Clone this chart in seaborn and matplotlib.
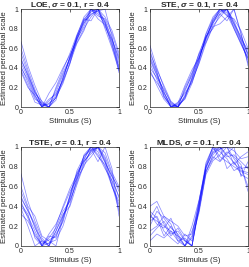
import numpy as np
import pandas as pd
import matplotlib
matplotlib.use('Agg')
import matplotlib.pyplot as plt
import seaborn as sns

# stimulus levels (15 points)
stimulus = [0.0, 0.0714, 0.1429, 0.2143, 0.2857, 0.3571, 0.4286, 0.5,
            0.5714, 0.6429, 0.7143, 0.7857, 0.8571, 0.9286, 1.0]

loe = [
    [0.67, 0.42, 0.22, 0.05, 0.00, 0.10, 0.30, 0.50, 0.72, 0.88, 1.00, 0.95, 0.85, 0.62, 0.40],
    [0.55, 0.35, 0.15, 0.02, 0.03, 0.12, 0.28, 0.52, 0.70, 0.90, 0.97, 1.00, 0.88, 0.70, 0.48],
    [0.45, 0.30, 0.12, 0.00, 0.06, 0.15, 0.33, 0.48, 0.68, 0.85, 1.00, 0.93, 0.90, 0.75, 0.52],
    [0.42, 0.25, 0.08, 0.04, 0.00, 0.18, 0.35, 0.50, 0.66, 0.80, 0.92, 1.00, 0.82, 0.68, 0.45],
    [0.40, 0.28, 0.10, 0.00, 0.08, 0.13, 0.27, 0.46, 0.72, 0.86, 0.95, 0.98, 1.00, 0.72, 0.38],
    [0.38, 0.22, 0.05, 0.02, 0.00, 0.10, 0.24, 0.45, 0.65, 0.78, 0.98, 1.00, 0.86, 0.66, 0.35],
    [0.50, 0.32, 0.14, 0.06, 0.00, 0.20, 0.38, 0.55, 0.74, 0.90, 0.88, 1.00, 0.92, 0.78, 0.55],
    [0.60, 0.38, 0.18, 0.00, 0.04, 0.09, 0.26, 0.44, 0.70, 0.82, 1.00, 0.90, 0.84, 0.64, 0.42],
    [0.36, 0.20, 0.12, 0.00, 0.14, 0.25, 0.40, 0.53, 0.69, 0.88, 0.94, 1.00, 0.80, 0.60, 0.37],
    [0.48, 0.33, 0.16, 0.03, 0.00, 0.07, 0.30, 0.51, 0.73, 0.92, 1.00, 0.97, 0.87, 0.69, 0.50],
]

ste = [
    [0.63, 0.40, 0.20, 0.04, 0.00, 0.12, 0.30, 0.52, 0.75, 0.92, 1.00, 0.96, 0.82, 0.66, 0.50],
    [0.52, 0.35, 0.15, 0.00, 0.03, 0.16, 0.34, 0.50, 0.70, 0.88, 0.97, 1.00, 0.85, 0.72, 0.55],
    [0.45, 0.28, 0.10, 0.02, 0.00, 0.10, 0.28, 0.48, 0.72, 0.85, 1.00, 0.93, 0.90, 0.78, 0.60],
    [0.40, 0.30, 0.18, 0.05, 0.00, 0.20, 0.35, 0.54, 0.66, 0.83, 0.92, 1.00, 0.80, 0.65, 0.48],
    [0.38, 0.22, 0.08, 0.00, 0.05, 0.14, 0.25, 0.45, 0.68, 0.86, 0.95, 0.88, 1.00, 0.74, 0.52],
    [0.48, 0.32, 0.12, 0.00, 0.02, 0.08, 0.24, 0.47, 0.74, 0.90, 1.00, 0.98, 0.84, 0.68, 0.45],
    [0.55, 0.38, 0.22, 0.06, 0.00, 0.18, 0.32, 0.55, 0.72, 0.80, 0.95, 1.00, 0.88, 0.70, 0.58],
    [0.35, 0.25, 0.14, 0.03, 0.00, 0.11, 0.27, 0.44, 0.65, 0.82, 0.85, 0.92, 1.00, 0.76, 0.42],
    [0.50, 0.33, 0.16, 0.00, 0.04, 0.22, 0.38, 0.50, 0.70, 0.89, 1.00, 0.94, 0.80, 0.64, 0.50],
    [0.58, 0.36, 0.11, 0.01, 0.00, 0.09, 0.29, 0.49, 0.71, 0.87, 0.98, 1.00, 0.86, 0.69, 0.54],
]

tste = [
    [0.73, 0.45, 0.25, 0.08, 0.00, 0.15, 0.30, 0.50, 0.72, 0.88, 1.00, 0.95, 0.80, 0.60, 0.45],
    [0.60, 0.40, 0.30, 0.10, 0.05, 0.00, 0.28, 0.48, 0.70, 0.85, 0.95, 1.00, 0.90, 0.72, 0.55],
    [0.50, 0.35, 0.20, 0.00, 0.08, 0.18, 0.35, 0.45, 0.66, 0.92, 1.00, 0.98, 0.84, 0.70, 0.58],
    [0.45, 0.28, 0.10, 0.02, 0.06, 0.10, 0.26, 0.52, 0.74, 0.86, 0.93, 1.00, 0.88, 0.65, 0.38],
    [0.40, 0.30, 0.15, 0.00, 0.12, 0.22, 0.38, 0.55, 0.68, 0.80, 0.98, 0.85, 1.00, 0.78, 0.30],
    [0.38, 0.20, 0.00, 0.05, 0.02, 0.15, 0.32, 0.40, 0.62, 0.82, 0.90, 1.00, 0.86, 0.60, 0.42],
    [0.55, 0.38, 0.18, 0.06, 0.00, 0.12, 0.24, 0.50, 0.76, 0.90, 1.00, 0.92, 0.78, 0.66, 0.50],
    [0.32, 0.25, 0.12, 0.00, 0.10, 0.08, 0.30, 0.46, 0.64, 0.84, 0.96, 1.00, 0.94, 0.74, 0.60],
    [0.48, 0.36, 0.22, 0.04, 0.00, 0.20, 0.40, 0.58, 0.72, 0.87, 1.00, 0.90, 0.82, 0.62, 0.35],
    [0.42, 0.32, 0.08, 0.00, 0.03, 0.06, 0.20, 0.42, 0.68, 0.91, 0.97, 1.00, 0.85, 0.70, 0.48],
]

mlds = [
    [0.40, 0.45, 0.30, 0.25, 0.20, 0.10, 0.12, 0.45, 0.80, 1.00, 0.90, 0.85, 0.80, 0.75, 0.72],
    [0.30, 0.25, 0.20, 0.15, 0.10, 0.05, 0.00, 0.40, 0.78, 0.95, 1.00, 0.90, 0.92, 0.85, 0.78],
    [0.20, 0.35, 0.28, 0.18, 0.12, 0.00, 0.15, 0.35, 0.75, 0.88, 0.98, 1.00, 0.82, 0.90, 0.95],
    [0.15, 0.20, 0.30, 0.22, 0.05, 0.08, 0.00, 0.38, 0.82, 1.00, 0.95, 0.88, 0.76, 0.80, 0.60],
    [0.35, 0.28, 0.10, 0.20, 0.08, 0.00, 0.10, 0.42, 0.76, 0.90, 0.85, 0.93, 1.00, 0.70, 0.85],
    [0.10, 0.18, 0.25, 0.12, 0.15, 0.05, 0.00, 0.36, 0.74, 0.92, 1.00, 0.78, 0.85, 0.72, 0.68],
    [0.25, 0.30, 0.15, 0.08, 0.02, 0.12, 0.05, 0.44, 0.84, 1.00, 0.86, 0.95, 0.90, 0.82, 0.55],
    [0.32, 0.22, 0.18, 0.28, 0.10, 0.00, 0.20, 0.46, 0.80, 0.94, 0.98, 1.00, 0.88, 0.78, 0.80],
    [0.05, 0.12, 0.08, 0.15, 0.05, 0.00, 0.08, 0.33, 0.72, 0.86, 0.92, 1.00, 0.96, 0.88, 0.90],
    [0.28, 0.40, 0.22, 0.10, 0.18, 0.06, 0.00, 0.40, 0.79, 0.97, 1.00, 0.92, 0.84, 0.76, 0.74],
]

titles = [r'LOE, $\sigma$ = 0.1, r = 0.4', r'STE, $\sigma$ = 0.1, r = 0.4',
          r'TSTE, $\sigma$ = 0.1, r = 0.4', r'MLDS, $\sigma$ = 0.1, r = 0.4']
panels = [loe, ste, tste, mlds]

sns.set_style('white')
plt.rcParams['font.family'] = ['Liberation Sans', 'DejaVu Sans']
plt.rcParams['mathtext.fontset'] = 'custom'
plt.rcParams['mathtext.it'] = 'Liberation Sans:italic:bold'

fig = plt.figure(figsize=(2.49, 2.67), dpi=100)

# axes positions [left, bottom, width, height] in figure fraction
positions = [
    [0.084, 0.599, 0.394, 0.367],
    [0.602, 0.599, 0.394, 0.367],
    [0.084, 0.079, 0.394, 0.371],
    [0.602, 0.079, 0.394, 0.371],
]

for pos, title, lines in zip(positions, titles, panels):
    ax = fig.add_axes(pos)
    rows = []
    for i, vals in enumerate(lines):
        for s, v in zip(stimulus, vals):
            rows.append({'rep': i, 'S': s, 'v': v})
    df = pd.DataFrame(rows)
    sns.lineplot(data=df, x='S', y='v', units='rep', estimator=None,
                 color='blue', alpha=0.45, linewidth=0.55, ax=ax)
    ax.set_xlim(0, 1)
    ax.set_ylim(0, 1)
    ax.set_xticks([0, 0.5, 1])
    ax.set_xticklabels(['0', '0.5', '1'])
    ax.set_yticks([0, 0.2, 0.4, 0.6, 0.8, 1])
    ax.set_yticklabels(['0', '0.2', '0.4', '0.6', '0.8', '1'])
    ax.tick_params(direction='in', length=2, width=0.5, labelsize=5,
                   pad=1.5, colors='#262626', top=True, right=True)
    for sp in ax.spines.values():
        sp.set_linewidth(0.5)
        sp.set_color('#262626')
    ax.set_xlabel('Stimulus (S)', fontsize=5.6, labelpad=1.5, color='#262626')
    ax.set_ylabel('Estimated perceptual scale', fontsize=5.6, labelpad=0.5, color='#262626')
    ax.set_title(title, fontsize=6, fontweight='bold', pad=1.5)

plt.savefig('out.png', dpi=100)
